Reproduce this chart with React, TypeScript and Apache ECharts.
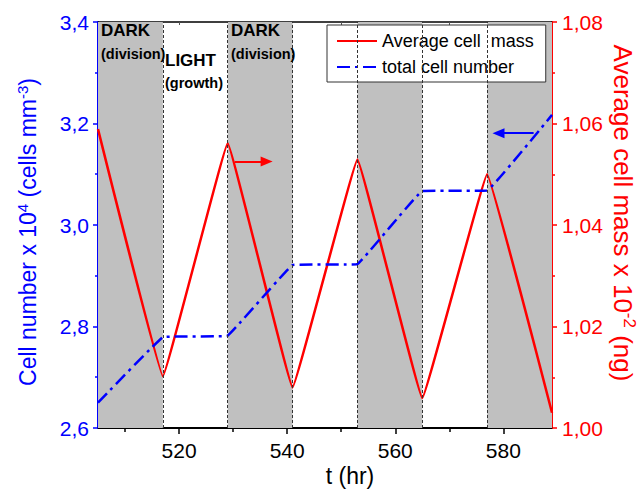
import { useEffect, useRef } from 'react';
import * as echarts from 'echarts';

// ---- data ----
const times = [505, 517, 529, 541, 553, 565, 577, 589];
const massValues = [1.0589, 1.0102, 1.0561, 1.008, 1.0529, 1.0059, 1.05, 1.003];
const cellValues = [2.65, 2.779, 2.782, 2.921, 2.923, 3.067, 3.068, 3.217];

const darkStarts = [505, 529, 553, 577];
const phaseLength = 12;
const boundaries = [517, 529, 541, 553, 565, 577];

const xMajorTicks = [520, 540, 560, 580];
const xMinorTicks = [510, 530, 550, 570];
const xTopTicks = [510, 520, 530, 540, 550, 560, 570, 580];

const massArrow = [[530.3, 1.0525], [536.2, 1.0525]];
const cellArrow = [[585.6, 3.181], [579.1, 3.181]];

const massName = 'Average cell  mass';
const cellName = 'total cell number';

const FONT = '"Liberation Sans", Arial, Helvetica, sans-serif';
const BLUE = '#0000ff';
const RED = '#ff0000';

export default function App() {
  const ref = useRef<HTMLDivElement>(null);

  useEffect(() => {
    if (!ref.current) return;
    const chart = echarts.init(ref.current, null, { renderer: 'svg' });

    const commas = (d: number) => (v: number) => v.toFixed(d).replace('.', ',');

    const option: any = {
      animation: false,
      backgroundColor: '#ffffff',
      textStyle: { fontFamily: FONT },
      grid: { left: 98, right: 88, top: 22, bottom: 62 },
      legend: {
        data: [massName, cellName],
        orient: 'vertical',
        left: 327,
        top: 25,
        itemWidth: 40,
        itemHeight: 14,
        itemGap: 8,
        padding: [7, 12, 6, 9],
        borderColor: '#333',
        borderWidth: 1,
        backgroundColor: '#ffffff',
        itemStyle: { opacity: 0 },
        textStyle: { fontSize: 18, color: '#000', fontFamily: FONT },
      },
      xAxis: [
        {
          type: 'value',
          position: 'bottom',
          min: 505,
          max: 589,
          axisLine: { show: true, lineStyle: { color: '#000', width: 2 } },
          axisTick: { show: true, customValues: xMajorTicks, length: 6, lineStyle: { color: '#000', width: 1.5 } },
          axisLabel: { show: true, customValues: xMajorTicks, fontSize: 21, color: '#000', margin: 12, fontFamily: FONT },
          splitLine: { show: false },
        },
        {
          type: 'value',
          position: 'bottom',
          min: 505,
          max: 589,
          axisLine: { show: false },
          axisTick: { show: true, customValues: xMinorTicks, length: 4, lineStyle: { color: '#000', width: 1.5 } },
          axisLabel: { show: false },
          splitLine: { show: false },
        },
        {
          type: 'value',
          position: 'top',
          min: 505,
          max: 589,
          axisLine: { show: true, lineStyle: { color: '#000', width: 1.5 } },
          axisTick: { show: true, inside: true, customValues: xTopTicks, length: 3, lineStyle: { color: '#555', width: 1 } },
          axisLabel: { show: false },
          splitLine: { show: false },
        },
      ],
      yAxis: [
        {
          type: 'value',
          position: 'left',
          min: 2.6,
          max: 3.4,
          interval: 0.2,
          axisLine: { show: true, lineStyle: { color: BLUE, width: 2 } },
          axisTick: { show: true, length: 5, lineStyle: { color: BLUE, width: 1.5 } },
          minorTick: { show: true, splitNumber: 2, length: 3, lineStyle: { color: BLUE, width: 1.5 } },
          axisLabel: { color: BLUE, fontSize: 21, margin: 9, fontFamily: FONT, formatter: commas(1) },
          splitLine: { show: false },
        },
        {
          type: 'value',
          position: 'right',
          min: 1.0,
          max: 1.08,
          interval: 0.02,
          axisLine: { show: true, lineStyle: { color: RED, width: 2 } },
          axisTick: { show: true, length: 5, lineStyle: { color: RED, width: 1.5 } },
          minorTick: { show: true, splitNumber: 2, length: 3, lineStyle: { color: RED, width: 1.5 } },
          axisLabel: { color: RED, fontSize: 21, margin: 10, fontFamily: FONT, formatter: commas(2) },
          splitLine: { show: false },
        },
      ],
      series: [
        {
          type: 'line',
          name: 'phases',
          xAxisIndex: 0,
          yAxisIndex: 0,
          data: [],
          z: 1,
          silent: true,
          markArea: {
            silent: true,
            itemStyle: { color: '#c0c0c0' },
            data: darkStarts.map((s) => [{ xAxis: s }, { xAxis: s + phaseLength }]),
          },
          markLine: {
            silent: true,
            symbol: ['none', 'none'],
            label: { show: false },
            lineStyle: { color: '#333', type: [3, 2], width: 1 },
            data: boundaries.map((b) => ({ xAxis: b })),
          },
        },
        {
          type: 'line',
          name: massName,
          xAxisIndex: 0,
          yAxisIndex: 1,
          data: times.map((t, i) => [t, massValues[i]]),
          symbol: 'none',
          showSymbol: false,
          smooth: 0.05,
          z: 4,
          lineStyle: { color: RED, width: 2.5 },
          itemStyle: { color: RED },
          markLine: {
            silent: true,
            symbol: ['none', 'triangle'],
            symbolSize: [10, 12],
            label: { show: false },
            lineStyle: { color: RED, width: 2, type: 'solid' },
            data: [[{ coord: massArrow[0] }, { coord: massArrow[1] }]],
          },
        },
        {
          type: 'line',
          name: cellName,
          xAxisIndex: 0,
          yAxisIndex: 0,
          data: times.map((t, i) => [t, cellValues[i]]),
          symbol: 'none',
          showSymbol: false,
          smooth: 0.05,
          z: 4,
          lineStyle: { color: BLUE, width: 2.5, type: [13, 5, 3, 5] },
          itemStyle: { color: BLUE },
          markLine: {
            silent: true,
            symbol: ['none', 'triangle'],
            symbolSize: [10, 12],
            label: { show: false },
            lineStyle: { color: BLUE, width: 2, type: 'solid' },
            data: [[{ coord: cellArrow[0] }, { coord: cellArrow[1] }]],
          },
        },
      ],
      graphic: [
        { type: 'text', x: 101, y: 30, z: 10, style: { text: 'DARK', fontSize: 17, fontWeight: 'bold', fontFamily: FONT, fill: '#000', align: 'left', verticalAlign: 'middle' } },
        { type: 'text', x: 101, y: 54, z: 10, style: { text: '(division)', fontSize: 14.5, fontWeight: 'bold', fontFamily: FONT, fill: '#000', align: 'left', verticalAlign: 'middle' } },
        { type: 'text', x: 165, y: 60, z: 10, style: { text: 'LIGHT', fontSize: 17, fontWeight: 'bold', fontFamily: FONT, fill: '#000', align: 'left', verticalAlign: 'middle' } },
        { type: 'text', x: 165, y: 83, z: 10, style: { text: '(growth)', fontSize: 14.5, fontWeight: 'bold', fontFamily: FONT, fill: '#000', align: 'left', verticalAlign: 'middle' } },
        { type: 'text', x: 231, y: 30, z: 10, style: { text: 'DARK', fontSize: 17, fontWeight: 'bold', fontFamily: FONT, fill: '#000', align: 'left', verticalAlign: 'middle' } },
        { type: 'text', x: 231, y: 54, z: 10, style: { text: '(division)', fontSize: 14.5, fontWeight: 'bold', fontFamily: FONT, fill: '#000', align: 'left', verticalAlign: 'middle' } },
        {
          type: 'text', x: 28, y: 232, rotation: Math.PI / 2, z: 10,
          style: {
            text: '{a|Cell number x 10}{s|4}{a| (cells mm}{s|-3}{a|)}',
            fill: BLUE, fontFamily: FONT, fontSize: 23, align: 'center', verticalAlign: 'middle',
            rich: {
              a: { fontSize: 23, fontFamily: FONT, fill: BLUE, lineHeight: 27 },
              s: { fontSize: 15, fontFamily: FONT, fill: BLUE, lineHeight: 15, verticalAlign: 'top' },
            },
          },
        },
        {
          type: 'text', x: 623, y: 213, rotation: -Math.PI / 2, z: 10,
          style: {
            text: '{a|Average cell mass x 10}{s|-2}{a| (ng)}',
            fill: RED, fontFamily: FONT, fontSize: 26, align: 'center', verticalAlign: 'middle',
            rich: {
              a: { fontSize: 26, fontFamily: FONT, fill: RED, lineHeight: 30 },
              s: { fontSize: 17, fontFamily: FONT, fill: RED, lineHeight: 17, verticalAlign: 'top' },
            },
          },
        },
        { type: 'text', x: 350, y: 476, z: 10, style: { text: 't (hr)', fontSize: 23, fontFamily: FONT, fill: '#000', align: 'center', verticalAlign: 'middle' } },
      ],
    };

    chart.setOption(option);
    return () => chart.dispose();
  }, []);

  return <div ref={ref} style={{ position: 'fixed', left: 0, top: 0, width: 640, height: 490, background: '#fff' }} />;
}
